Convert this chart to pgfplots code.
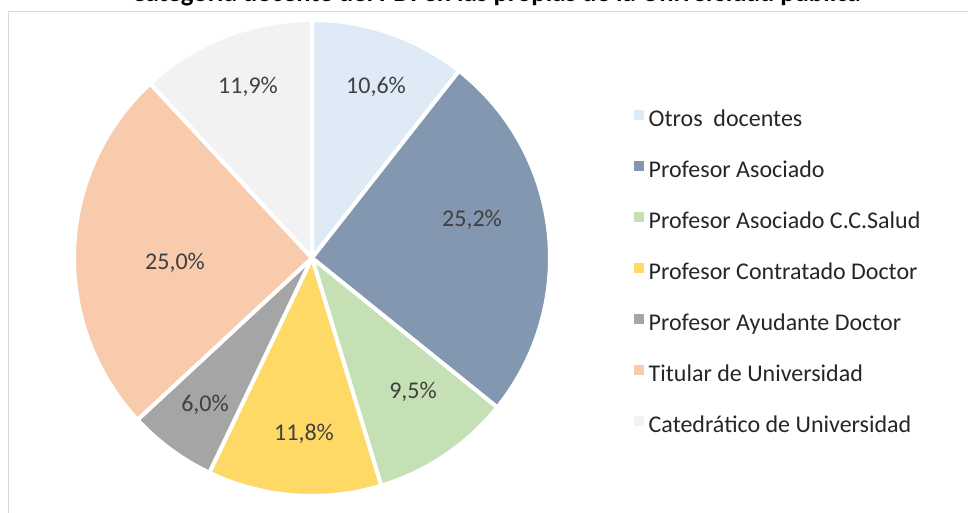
\documentclass[border=0pt]{standalone}
\usepackage{pgfplots}
\usepackage{pgfplotstable}
\pgfplotsset{compat=1.18}
\usepackage{fontspec}
\setmainfont{Carlito}
\definecolor{c0}{HTML}{DEEBF7}
\definecolor{c1}{HTML}{8497B0}
\definecolor{c2}{HTML}{C5E0B4}
\definecolor{c3}{HTML}{FFD966}
\definecolor{c4}{HTML}{A5A5A5}
\definecolor{c5}{HTML}{F8CBAD}
\definecolor{c6}{HTML}{F2F2F2}
\definecolor{lbl}{HTML}{404040}
\definecolor{leg}{HTML}{262626}
\definecolor{frame}{HTML}{D9D9D9}

\pgfplotstableread{
val lx ly
10.6 376 426
25.2 472 293
9.5 413 121
11.8 304 79
6.0 205 108
25.0 175 250
11.9 248 426
}\piedata

\begin{document}
\begin{tikzpicture}
\useasboundingbox (0,0) rectangle (968bp,513bp);
\clip (0,0) rectangle (968bp,513bp);
\begin{axis}[
  at={(0,0)}, anchor=origin,
  x=1bp, y=1bp,
  xmin=0, xmax=968, ymin=0, ymax=513,
  hide axis,
  clip=false,
  /pgf/number format/assume math mode=true,
  legend image code/.code={\fill[#1, draw=none] (0bp,1.5bp) rectangle (9.5bp,11bp);},
  legend cell align=left,
  legend style={
    at={(axis cs:631,404.8)}, anchor=north west,
    draw=none, fill=none,
    font=\fontsize{24bp}{28bp}\selectfont\color{leg},
    row sep=29.5bp,
    nodes={inner ysep=0pt, inner xsep=5bp, text height=16bp, text depth=5bp},
  },
]
\draw[frame, line width=1bp] (axis cs:8,501.5) rectangle (axis cs:1000,-20);
\node[anchor=base, font=\fontsize{26.7bp}{30bp}\selectfont\bfseries] at (axis cs:496,511)
  {Categoría docente del PDI en las propias de la Universidad pública};
\pgfplotsextra{
  \pgfplotstablegetrowsof{\piedata}
  \pgfmathtruncatemacro\N{\pgfplotsretval-1}
  \xdef\ang{90}
  \foreach \i in {0,...,\N} {
    \pgfplotstablegetelem{\i}{val}\of\piedata
    \pgfmathsetmacro\endang{\ang-3.6*\pgfplotsretval}
    \fill[c\i, draw=white, line width=4bp, line join=round]
      (axis cs:312,255) -- ++(\ang:238bp) arc[start angle=\ang, end angle=\endang, radius=238bp] -- cycle;
    \xdef\ang{\endang}
  }
  \foreach \i in {0,...,\N} {
    \pgfplotstablegetelem{\i}{val}\of\piedata
    \edef\v{\pgfplotsretval}
    \pgfplotstablegetelem{\i}{lx}\of\piedata \let\lx\pgfplotsretval
    \pgfplotstablegetelem{\i}{ly}\of\piedata \let\ly\pgfplotsretval
    \node[lbl, font=\fontsize{24bp}{28bp}\selectfont] at (axis cs:\lx,\ly)
      {\pgfmathprintnumber[fixed, fixed zerofill, precision=1, use comma, assume math mode=true]{\v}\%};
  }
}
\addlegendimage{fill=c0}\addlegendentry{Otros\ \ docentes}
\addlegendimage{fill=c1}\addlegendentry{Profesor Asociado}
\addlegendimage{fill=c2}\addlegendentry{Profesor Asociado C.C.Salud}
\addlegendimage{fill=c3}\addlegendentry{Profesor Contratado Doctor}
\addlegendimage{fill=c4}\addlegendentry{Profesor Ayudante Doctor}
\addlegendimage{fill=c5}\addlegendentry{Titular de Universidad}
\addlegendimage{fill=c6}\addlegendentry{Catedrático de Universidad}
\end{axis}
\end{tikzpicture}
\end{document}
